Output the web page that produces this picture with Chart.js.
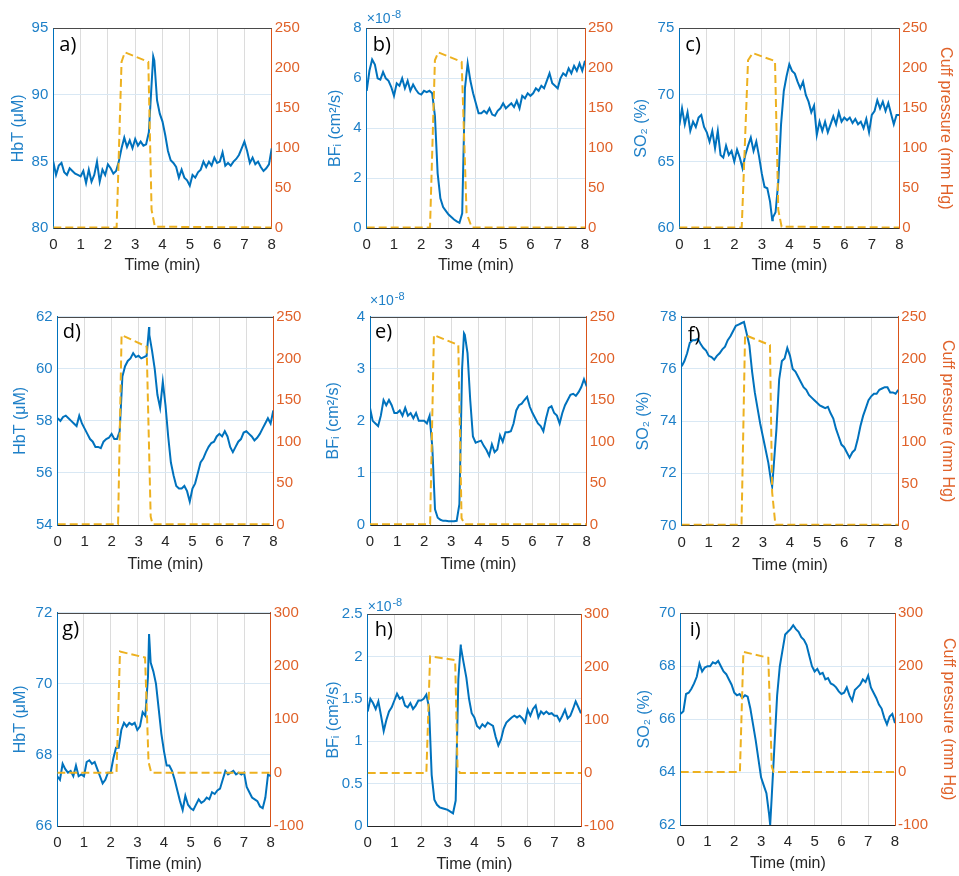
<!DOCTYPE html>
<html><head><meta charset="utf-8">
<script src="https://cdn.jsdelivr.net/npm/chart.js@4.4.1/dist/chart.umd.min.js"></script>
<style>
html,body{margin:0;padding:0;background:#fff;}
#wrap{position:relative;width:959px;height:876px;overflow:hidden;background:#fff;}
#wrap canvas{position:absolute;}
</style></head><body><div id="wrap"></div>
<script>
// ---------------- DATA ----------------
const TIME = [0,0.1,0.2,0.3,0.4,0.5,0.6,0.7,0.8,0.9,1,1.1,1.2,1.3,1.4,1.5,1.6,1.7,1.8,1.9,2,2.1,2.2,2.3,2.4,2.5,2.6,2.7,2.8,2.9,3,3.1,3.2,3.3,3.4,3.5,3.6,3.7,3.8,3.9,4,4.1,4.2,4.3,4.4,4.5,4.6,4.7,4.8,4.9,5,5.1,5.2,5.3,5.4,5.5,5.6,5.7,5.8,5.9,6,6.1,6.2,6.3,6.4,6.5,6.6,6.7,6.8,6.9,7,7.1,7.2,7.3,7.4,7.5,7.6,7.7,7.8,7.9,8];

// a) HbT (uM)
const HBT_A = [85.0,84.0,84.7,84.9,84.2,84.0,84.5,84.3,84.1,84.0,83.9,84.3,83.4,84.4,83.5,84.0,85.0,83.5,84.4,84.0,84.8,84.5,84.1,84.3,85.0,86.0,86.8,86.1,86.6,86.0,86.7,86.2,86.5,86.2,86.3,87.2,90.8,92.6,89.6,88.6,88.0,87.0,85.8,85.1,84.9,84.6,83.8,84.4,83.8,83.6,83.2,84.0,83.8,84.2,84.4,85.0,84.6,85.0,84.7,85.3,84.9,85.0,85.7,84.7,84.9,84.7,85.0,85.2,85.5,86.0,86.5,85.8,84.9,85.3,84.8,85.0,84.6,84.3,84.5,84.8,86.0];
const EXTRA_T_A = [3.66], EXTRA_V_A = [92.9];
// b) BFi (x1e-8 cm^2/s)
const BF_B = [5.5,6.3,6.75,6.55,6.0,5.95,6.25,6.0,5.9,5.65,5.3,5.8,5.7,6.0,5.6,5.9,5.5,5.75,5.55,5.4,5.35,5.5,5.45,5.5,5.4,4.5,2.2,1.2,0.85,0.7,0.55,0.45,0.35,0.28,0.22,0.6,5.6,6.6,5.9,5.4,5.0,4.6,4.6,4.7,4.6,4.8,4.55,4.5,4.7,4.8,5.0,4.8,4.9,5.0,4.85,5.1,4.8,5.3,5.2,5.4,5.3,5.4,5.6,5.5,5.7,5.6,5.9,6.2,5.8,5.7,5.6,6.0,6.2,6.1,6.4,6.2,6.5,6.3,6.6,6.3,6.7];
const EXTRA_T_B = [], EXTRA_V_B = [];
// c) SO2 (%)
const SO2_C = [67.7,69.0,67.8,68.7,67.3,68.0,67.6,68.3,68.5,67.6,67.2,66.5,67.3,66.0,67.3,65.5,65.3,66.2,65.5,65.8,65.0,65.9,65.3,64.5,65.5,66.2,66.8,65.8,66.5,65.4,64.1,63.1,63.0,62.0,60.8,61.2,63.5,67.8,70.3,71.4,72.3,71.8,71.6,71.0,70.5,71.0,70.0,69.5,68.7,69.2,67.0,68.0,67.3,68.0,67.2,67.8,68.4,67.8,68.7,68.0,68.3,68.1,68.3,67.9,68.2,67.8,68.0,67.5,68.2,67.2,68.5,68.8,69.6,69.0,69.5,68.8,69.4,68.6,67.8,68.5,68.5];
const EXTRA_T_C = [3.38], EXTRA_V_C = [60.6];
// d) HbT (uM)
const HBT_D = [58.1,58.0,58.15,58.2,58.1,58.0,57.9,57.8,58.2,57.9,57.7,57.5,57.3,57.2,57.0,57.0,56.95,57.2,57.3,57.35,57.5,57.3,57.3,57.6,59.7,60.1,60.3,60.4,60.6,60.45,60.5,60.4,60.45,60.5,61.3,60.7,60.0,59.0,58.5,59.5,58.6,57.4,56.4,55.9,55.5,55.4,55.4,55.5,55.3,54.9,55.4,55.6,56.0,56.4,56.55,56.8,57.0,57.15,57.2,57.4,57.5,57.4,57.6,57.4,57.0,56.8,57.0,57.2,57.3,57.55,57.6,57.5,57.4,57.25,57.35,57.5,57.7,57.9,58.1,57.9,58.4];
const EXTRA_T_D = [3.39], EXTRA_V_D = [61.6];
// e) BFi (x1e-8 cm^2/s)
const BF_E = [2.25,2.0,1.95,1.9,2.1,2.4,2.3,2.4,2.3,2.15,2.15,2.2,2.1,2.25,2.1,2.15,2.05,2.15,2.0,2.0,2.0,1.95,2.1,1.5,0.3,0.14,0.1,0.08,0.08,0.07,0.07,0.07,0.08,0.4,3.0,3.65,3.3,2.4,1.7,1.58,1.6,1.62,1.52,1.44,1.33,1.55,1.4,1.45,1.72,1.6,1.78,1.78,1.8,1.95,2.2,2.3,2.33,2.4,2.46,2.27,2.15,2.05,1.95,1.9,1.8,2.05,2.25,2.28,2.15,2.1,1.95,2.15,2.3,2.4,2.5,2.52,2.48,2.55,2.65,2.8,2.66];
const EXTRA_T_E = [3.47], EXTRA_V_E = [3.68];
// f) SO2 (%)
const SO2_F = [76.1,76.3,76.6,77.0,77.1,77.1,77.15,76.95,76.8,76.7,76.5,76.45,76.35,76.5,76.6,76.75,76.85,77.1,77.25,77.45,77.65,77.7,77.75,77.8,77.36,76.9,75.9,75.1,74.5,73.9,73.4,72.9,72.4,71.7,72.3,73.7,75.6,76.3,76.4,76.8,76.5,76.0,75.9,75.7,75.5,75.3,75.2,75.0,74.9,74.8,74.7,74.6,74.55,74.5,74.55,74.3,74.1,73.7,73.4,73.1,73.0,72.8,72.6,72.8,72.9,73.3,73.8,74.2,74.5,74.8,74.95,75.05,75.05,75.2,75.25,75.3,75.3,75.1,75.1,75.05,75.2];
const EXTRA_T_F = [3.34], EXTRA_V_F = [71.5];
// g) HbT (uM)
const HBT_G = [67.4,67.3,67.75,67.6,67.5,67.55,67.4,67.7,67.4,67.45,67.4,67.8,67.85,67.75,67.8,67.6,67.4,67.2,67.3,67.5,67.5,67.9,68.2,68.2,68.7,68.9,68.8,68.9,68.85,68.9,68.7,68.8,69.2,69.1,70.2,70.6,70.35,70.0,69.3,68.6,68.1,67.7,67.7,67.55,67.3,67.0,66.7,66.45,66.85,66.6,66.5,66.45,66.6,66.75,66.65,66.7,66.8,66.75,66.95,66.9,67.0,67.05,67.3,67.55,67.45,67.5,67.55,67.45,67.5,67.45,67.5,67.1,66.95,66.8,66.75,66.7,66.55,66.5,66.8,67.45,67.4];
const EXTRA_T_G = [3.44], EXTRA_V_G = [71.4];
// h) BFi (x1e-8 cm^2/s)
const BF_H = [1.35,1.5,1.45,1.38,1.47,1.3,1.12,1.25,1.35,1.4,1.48,1.56,1.5,1.52,1.42,1.4,1.45,1.38,1.42,1.48,1.48,1.5,1.55,1.4,0.6,0.31,0.25,0.22,0.21,0.2,0.19,0.17,0.15,0.3,1.73,2.1,1.92,1.75,1.5,1.33,1.28,1.18,1.15,1.2,1.17,1.22,1.2,1.18,1.05,0.95,1.02,1.15,1.22,1.25,1.28,1.3,1.28,1.3,1.27,1.22,1.37,1.3,1.38,1.42,1.28,1.35,1.32,1.35,1.32,1.33,1.3,1.3,1.24,1.3,1.37,1.27,1.3,1.38,1.47,1.4,1.33];
const EXTRA_T_H = [3.49], EXTRA_V_H = [2.14];
// i) SO2 (%)
const SO2_I = [66.2,66.3,66.95,67.0,67.15,67.35,67.6,68.1,67.8,67.95,68.0,68.0,68.15,68.1,68.2,68.0,67.8,67.7,67.5,67.3,67.0,66.9,66.95,66.8,66.9,66.85,66.4,65.8,65.2,64.5,63.8,63.5,63.2,62.4,63.1,65.0,66.9,68.0,68.6,69.2,69.3,69.4,69.55,69.4,69.3,69.1,69.0,68.8,68.4,68.0,67.8,67.9,67.7,67.75,67.5,67.55,67.35,67.3,67.2,67.05,66.95,67.0,67.2,66.9,66.7,67.1,67.2,67.3,67.5,67.4,67.65,67.2,67.0,66.8,66.55,66.4,66.05,65.8,66.1,66.2,65.85];
const EXTRA_T_I = [3.34], EXTRA_V_I = [62.0];

// Cuff pressure (mm Hg)
const CUFF_T_A = [0,2.32,2.5,2.62,3.48,3.6,3.72,8], CUFF_P_A = [1,1,208,220,208,23,2,1];
const CUFF_T_B = [0,2.32,2.5,2.62,3.48,3.66,3.85,8], CUFF_P_B = [1,1,210,220,208,19,1,1];
const CUFF_T_C = [0,2.27,2.5,2.67,3.48,3.6,3.72,8], CUFF_P_C = [1,1,210,219,209,23,2,1];
const CUFF_T_D = [0,2.24,2.37,3.3,3.45,3.52,8], CUFF_P_D = [1,1,228,214,10,1,1];
const CUFF_T_E = [0,2.22,2.36,3.26,3.38,3.5,8], CUFF_P_E = [1,1,228,216,8,1,1];
const CUFF_T_F = [0,2.21,2.34,3.26,3.34,3.46,8], CUFF_P_F = [1,1,228,216,40,1,1];
const CUFF_T_G = [0,2.22,2.35,3.29,3.42,3.52,8], CUFF_P_G = [0,0,227,216,20,0,0];
const CUFF_T_H = [0,2.2,2.34,3.28,3.37,3.46,8], CUFF_P_H = [0,0,220,213,10,0,0];
const CUFF_T_I = [0,2.21,2.34,3.27,3.4,3.47,8], CUFF_P_I = [0,0,227,216,10,0,0];

// Axis ranges / labels
const LEFT_RANGES = {a:[80,95,5], b:[0,8,2], c:[60,75,5], d:[54,62,2], e:[0,4,1], f:[70,78,2], g:[66,72,2], h:[0,2.5,0.5], i:[62,70,2]};
const RIGHT_RANGES = {a:[0,250,50], b:[0,250,50], c:[0,250,50], d:[0,250,50], e:[0,250,50], f:[0,250,50], g:[-100,300,100], h:[-100,300,100], i:[-100,300,100]};
const LEFT_TITLES = {HbT:'HbT (\u03BCM)', BF:'BF\u1D62 (cm\u00B2/s)', SO2:'SO\u2082 (%)'};
const RIGHT_TITLE = 'Cuff pressure (mm Hg)';
const X_TITLE = 'Time (min)';
const EXP_LABEL = ['\u00D710', '-8'];

// ---------------- LAYOUT (positions/styles) ----------------
const BLUE = '#0072BD', BLUE_T = '#1f80c8', ORANGE = '#D95319', ORANGE_T = '#e0622a', YELLOW = '#EDB120', DARK = '#262626';
const FONT = 'Liberation Sans, Arial, sans-serif';
const PANELS = [
 {id:'a', vals:HBT_A, et:EXTRA_T_A, ev:EXTRA_V_A, ct:CUFF_T_A, cp:CUFF_P_A, lt:'HbT', rt:false, exp:false, cell:[0,0,320,290],   plot:[53.3,28.3,271.7,228.3], ltx:19,  rtx:0,   xty:37, lab:[6,23]},
 {id:'b', vals:BF_B,  et:EXTRA_T_B, ev:EXTRA_V_B, ct:CUFF_T_B, cp:CUFF_P_B, lt:'BF',  rt:false, exp:-5, cell:[300,0,330,290], plot:[366.7,28.3,585,228.3], ltx:336, rtx:0,   xty:37, lab:[6,23]},
 {id:'c', vals:SO2_C, et:EXTRA_T_C, ev:EXTRA_V_C, ct:CUFF_T_C, cp:CUFF_P_C, lt:'SO2', rt:true,  exp:false, cell:[620,0,339,290], plot:[679.3,28.3,899.3,228.3], ltx:642, rtx:945, xty:37, lab:[6,23]},
 {id:'d', vals:HBT_D, et:EXTRA_T_D, ev:EXTRA_V_D, ct:CUFF_T_D, cp:CUFF_P_D, lt:'HbT', rt:false, exp:false, cell:[0,290,320,290], plot:[57.7,316.7,273.3,525], ltx:21, rtx:0, xty:40, lab:[5,21]},
 {id:'e', vals:BF_E,  et:EXTRA_T_E, ev:EXTRA_V_E, ct:CUFF_T_E, cp:CUFF_P_E, lt:'BF',  rt:false, exp:-12, cell:[300,290,330,290], plot:[370,316.7,586.7,525], ltx:334, rtx:0, xty:40, lab:[5,21]},
 {id:'f', vals:SO2_F, et:EXTRA_T_F, ev:EXTRA_V_F, ct:CUFF_T_F, cp:CUFF_P_F, lt:'SO2', rt:true,  exp:false, cell:[620,290,339,290], plot:[681.7,316.7,898.3,525.5], ltx:644, rtx:947, xty:40, lab:[6,24]},
 {id:'g', vals:HBT_G, et:EXTRA_T_G, ev:EXTRA_V_G, ct:CUFF_T_G, cp:CUFF_P_G, lt:'HbT', rt:false, exp:false, cell:[0,580,320,296], plot:[57.3,612.7,270.7,826], ltx:21, rtx:0, xty:39, lab:[5,22]},
 {id:'h', vals:BF_H,  et:EXTRA_T_H, ev:EXTRA_V_H, ct:CUFF_T_H, cp:CUFF_P_H, lt:'BF',  rt:false, exp:-3, cell:[300,580,330,296], plot:[367.7,614,581,826], ltx:334, rtx:0, xty:39, lab:[7,22]},
 {id:'i', vals:SO2_I, et:EXTRA_T_I, ev:EXTRA_V_I, ct:CUFF_T_I, cp:CUFF_P_I, lt:'SO2', rt:true,  exp:false, cell:[620,580,339,296], plot:[680.7,613.3,895,825], ltx:645, rtx:948, xty:39, lab:[9,23]}
];

const wrap = document.getElementById('wrap');
const TICK_FONT = {family:FONT, size:15};
const TITLE_FONT = {family:FONT, size:16};
const TITLE_LH = 16*1.2;
const fmt = v => String(Number(v.toFixed(3)));

function makeChart(p){
  const [cx,cy,cw,ch] = p.cell;
  const [pl,pt,pr,pbm] = p.plot;
  const LW = pl - cx, RW = cx + cw - pr, TOP = pt - cy, XH = cy + ch - pbm;
  const cv = document.createElement('canvas');
  cv.width = cw; cv.height = ch;
  cv.style.left = cx+'px'; cv.style.top = cy+'px';
  cv.style.width = cw+'px'; cv.style.height = ch+'px';
  wrap.appendChild(cv);

  const blue = TIME.map((t,i)=>({x:t,y:p.vals[i]}))
      .concat(p.et.map((t,i)=>({x:t,y:p.ev[i]})))
      .sort((a,b)=>a.x-b.x);
  const cuff = p.ct.map((t,i)=>({x:t,y:p.cp[i]}));
  const L = LEFT_RANGES[p.id], R = RIGHT_RANGES[p.id];

  const decor = {
    id:'decor'+p.id,
    beforeDatasetsDraw(chart){
      const a = chart.chartArea, ctx = chart.ctx;
      ctx.save();
      ctx.strokeStyle = '#4a4a4a'; ctx.lineWidth = 1;
      ctx.beginPath(); ctx.moveTo(a.left, Math.round(a.top)+0.5); ctx.lineTo(a.right, Math.round(a.top)+0.5); ctx.stroke();
      ctx.restore();
    },
    afterDraw(chart){
      const a = chart.chartArea, ctx = chart.ctx;
      ctx.save();
      ctx.fillStyle = '#000';
      ctx.font = '20px "Open Sans", sans-serif';
      ctx.textBaseline = 'alphabetic'; ctx.textAlign = 'left';
      ctx.fillText(p.id + ')', a.left + p.lab[0], a.top + p.lab[1]);
      if (p.exp !== false){
        ctx.fillStyle = BLUE_T;
        ctx.font = '14px ' + FONT;
        const by = a.top + p.exp;
        ctx.fillText(EXP_LABEL[0], a.left, by);
        const w = ctx.measureText(EXP_LABEL[0]).width;
        ctx.font = '11px ' + FONT;
        ctx.fillText(EXP_LABEL[1], a.left + w + 1, by - 5);
      }
      ctx.restore();
    }
  };

  new Chart(cv, {
    type:'line',
    data:{datasets:[
      {data:cuff, yAxisID:'y2', borderColor:YELLOW, borderWidth:2, borderDash:[8,4], pointRadius:0, fill:false, tension:0, order:0},
      {data:blue, yAxisID:'y', borderColor:BLUE, borderWidth:2, pointRadius:0, fill:false, tension:0, order:1}
    ]},
    options:{
      responsive:false, animation:false, events:[], devicePixelRatio:1,
      layout:{padding:{top:TOP, left:0, right:0, bottom:0}},
      plugins:{legend:{display:false}, tooltip:{enabled:false}},
      scales:{
        x:{type:'linear', position:'bottom', min:0, max:8,
           ticks:{stepSize:1, color:DARK, font:TICK_FONT, padding:8, maxRotation:0, callback:fmt},
           grid:{color:'#dcdcdc', drawTicks:false},
           border:{color:DARK, width:1},
           title:{display:true, text:X_TITLE, color:DARK, font:TITLE_FONT, padding:{top:0, bottom: XH - p.xty - TITLE_LH/2}},
           afterFit:s=>{s.height = XH;}},
        y:{type:'linear', position:'left', min:L[0], max:L[1],
           ticks:{stepSize:L[2], color:BLUE_T, font:TICK_FONT, padding:5, callback:fmt},
           grid:{color:'#d9e8f4', drawTicks:false},
           border:{color:BLUE, width:1},
           title:{display:true, text:LEFT_TITLES[p.lt], color:BLUE_T, font:TITLE_FONT, padding:{top: p.ltx - cx - TITLE_LH/2, bottom:0}},
           afterFit:s=>{s.width = LW;}},
        y2:{type:'linear', position:'right', min:R[0], max:R[1],
           ticks:{stepSize:R[2], color:ORANGE_T, font:TICK_FONT, padding:3, callback:fmt},
           grid:{display:false, drawTicks:false},
           border:{color:ORANGE, width:1},
           title:{display:p.rt, text:RIGHT_TITLE, color:ORANGE_T, font:TITLE_FONT, padding:{top: p.rt ? (cx + cw - p.rtx - TITLE_LH/2) : 0, bottom:0}},
           afterFit:s=>{s.width = RW;}}
      }
    },
    plugins:[decor]
  });
}
PANELS.forEach(makeChart);
</script></body></html>
